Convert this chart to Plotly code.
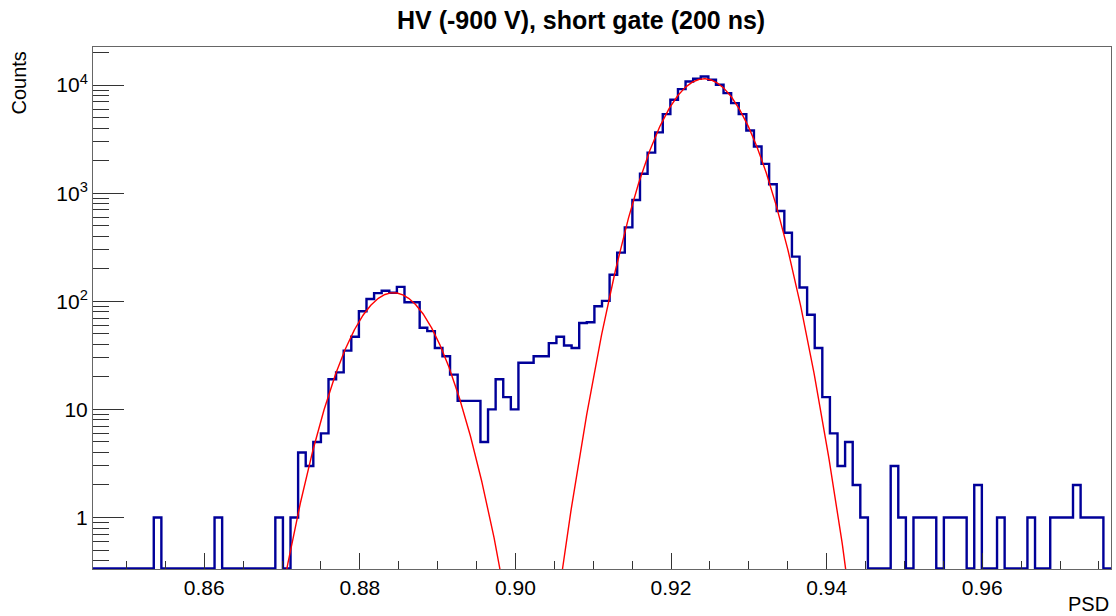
import numpy as np
import plotly.graph_objects as go

# ---- data ----
X0 = 0.8457          # left edge of first bin
BIN_W = 0.0009765    # bin width
counts = [
    0, 0, 0, 0, 0, 0, 0, 0, 1, 0,        # 0-9
    0, 0, 0, 0, 0, 0, 1, 0, 0, 0,        # 10-19
    0, 0, 0, 0, 1, 0, 1, 4, 3, 5,        # 20-29
    6, 19, 22, 35, 47, 81, 105, 119, 125, 120,   # 30-39
    136, 98, 98, 57, 53, 37, 31, 21, 12, 12,     # 40-49
    12, 5, 10, 19, 13, 10, 27, 27, 31, 31,       # 50-59
    41, 47, 39, 37, 63, 64, 90, 101, 176, 282,   # 60-69
    483, 866, 1513, 2370, 3650, 5385, 7310, 9180, 10800, 11430,  # 70-79
    12000, 11200, 10070, 8430, 6810, 5385, 3800, 2700, 1866, 1211,  # 80-89
    685, 431, 259, 134, 75, 37, 13, 6, 3, 5,     # 90-99
    2, 1, 0, 0, 0, 3, 1, 0, 1, 1,                # 100-109
    1, 0, 1, 1, 1, 0, 2, 0, 0, 1,                # 110-119
    0, 0, 0, 1, 0, 0, 1, 1, 1, 2,                # 120-129
    1, 1, 1, 0,                                  # 130-133
]
fit1 = dict(amp=120.0, mean=0.88433, sigma=0.00400)
fit2 = dict(amp=11430.0, mean=0.92425, sigma=0.00399)

title_text = "HV (-900 V), short gate (200 ns)"
x_title = "PSD"
y_title = "Counts"
x_tickvals = [0.86, 0.88, 0.90, 0.92, 0.94, 0.96]
x_ticktext = ["0.86", "0.88", "0.90", "0.92", "0.94", "0.96"]
y_tickvals = [1, 10, 100, 1000, 10000]
y_ticktext = ["1", "10", "10<sup>2</sup>", "10<sup>3</sup>", "10<sup>4</sup>"]

# ---- derived ----
nb = len(counts)
edges = X0 + BIN_W * np.arange(nb + 1)
YMIN_LOG, YMAX_LOG = -0.476, 4.352
floor = 10 ** (YMIN_LOG + 0.006)
yv = [c if c > 0 else floor for c in counts]
xs = list(edges)
ys = yv + [yv[-1]]

W, H = 1116, 616
ml, mr, mt, mb = 93, 5, 47, 47
pw, ph = W - ml - mr, H - mt - mb

fig = go.Figure()
fig.add_trace(go.Scatter(x=xs, y=ys, mode="lines", line=dict(shape="hv", color="#000099", width=2.4),
                         hoverinfo="skip", showlegend=False))

def gauss(p, lo, hi):
    xx = np.linspace(lo, hi, 600)
    return xx, p["amp"] * np.exp(-0.5 * ((xx - p["mean"]) / p["sigma"]) ** 2)

gx, gy = gauss(fit1, 0.866, 0.903)
fig.add_trace(go.Scatter(x=gx, y=gy, mode="lines", line=dict(color="#ff0000", width=1.4),
                         hoverinfo="skip", showlegend=False))
gx, gy = gauss(fit2, 0.902, 0.947)
fig.add_trace(go.Scatter(x=gx, y=gy, mode="lines", line=dict(color="#ff0000", width=1.4),
                         hoverinfo="skip", showlegend=False))

y_minor = []
for d in range(-1, 5):
    for m in range(2, 10):
        v = m * 10 ** d
        if 10 ** YMIN_LOG < v < 10 ** YMAX_LOG:
            y_minor.append(v)
x_minor = [round(0.845 + 0.005 * i, 3) for i in range(0, 28) if (0.845 + 0.005 * i) <= edges[-1]]

font = "Liberation Sans, Arial, Helvetica, sans-serif"
fig.update_layout(
    width=W, height=H,
    margin=dict(l=ml, r=mr, t=mt, b=mb),
    paper_bgcolor="white", plot_bgcolor="white",
    font=dict(family=font, size=20, color="black"),
    showlegend=False,
    xaxis=dict(range=[edges[0], edges[-1]], showgrid=False, zeroline=False,
               showline=True, linecolor="#666666", linewidth=1, mirror=True,
               ticks="inside", ticklen=16, tickcolor="#333333", tickwidth=1,
               tickvals=x_tickvals, ticktext=x_ticktext,
               tickfont=dict(size=21),
               minor=dict(ticks="inside", ticklen=8, tickcolor="#333333", tickvals=x_minor)),
    yaxis=dict(type="log", range=[YMIN_LOG, YMAX_LOG], showgrid=False, zeroline=False,
               showline=True, linecolor="#666666", linewidth=1, mirror=True,
               ticks="inside", ticklen=31, tickcolor="#333333", tickwidth=1,
               tickvals=y_tickvals, ticktext=y_ticktext,
               tickfont=dict(size=21),
               minor=dict(ticks="inside", ticklen=16, tickcolor="#333333", tickvals=y_minor)),
    annotations=[
        dict(text="<b>" + title_text + "</b>", xref="paper", yref="paper",
             x=(581 - ml) / pw, y=1 + (47 - 20) / ph,
             xanchor="center", yanchor="middle", showarrow=False, font=dict(size=25)),
        dict(text=x_title, xref="paper", yref="paper", x=1.0, y=-(604 - 569) / ph,
             xanchor="right", yanchor="middle", showarrow=False, font=dict(size=20)),
        dict(text=y_title, xref="paper", yref="paper", textangle=-90,
             x=-(93 - 18) / pw, y=1 - (50 - 47) / ph,
             xanchor="center", yanchor="top", showarrow=False, font=dict(size=20)),
    ],
)
fig.write_html("out.html")
